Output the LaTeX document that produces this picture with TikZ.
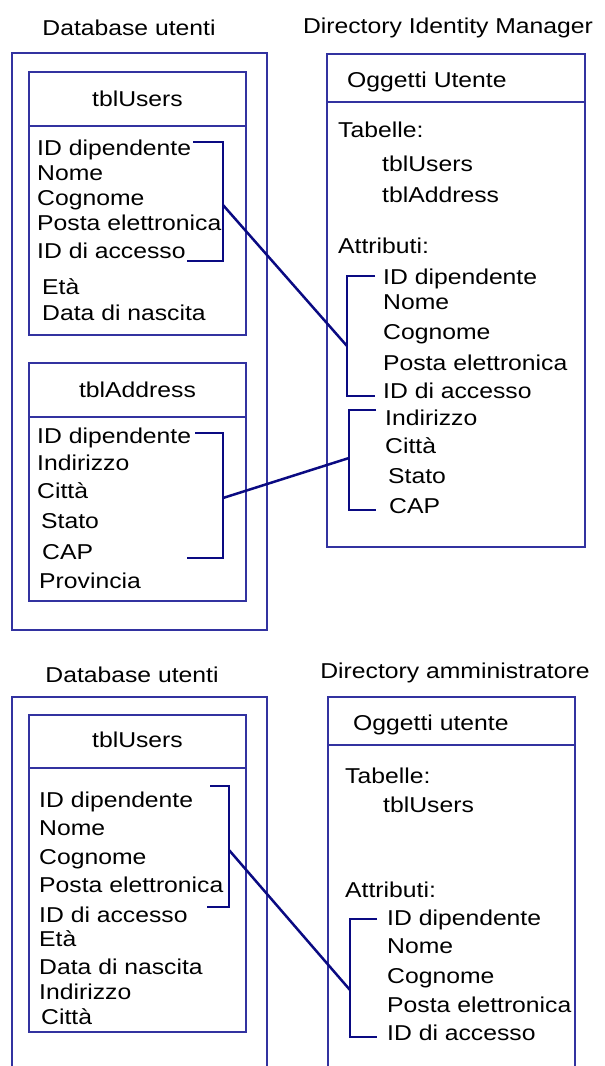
\documentclass[tikz,border=0pt]{standalone}
\usepackage{fontspec}
\setmainfont[FakeStretch=1.15]{Liberation Sans}
\begin{document}
\begin{tikzpicture}[x=1pt,y=-1pt,
  box/.style={draw=boxblue,line width=1.9pt},
  brk/.style={draw=navyline,line width=2.8pt},
  lnk/.style={draw=navyline,line width=2.5pt},
  fld/.style={anchor=base west,inner sep=0pt,font=\fontsize{21.5}{23}\selectfont},
  ttl/.style={anchor=base,inner sep=0pt,font=\fontsize{21.5}{23}\selectfont}]
\definecolor{boxblue}{RGB}{50,50,160}
\definecolor{navyline}{RGB}{10,10,130}
\useasboundingbox (0,0) rectangle (605,1066);
% ---------------- top panel ----------------
\node[ttl] (t1) at (129,35) {Database utenti};
\node[ttl] (t2) at (448,33) {Directory Identity Manager};
\draw[box] (12,53) rectangle (267,630);
% tblUsers
\draw[box] (29,72) rectangle (246,335);
\draw[box] (29,126) -- (246,126);
\node[ttl] (h1) at (137.5,106) {tblUsers};
\node[fld] (a1) at (37,155) {ID dipendente};
\node[fld] (a2) at (37,180) {Nome};
\node[fld] (a3) at (37,205) {Cognome};
\node[fld] (a4) at (37,230) {Posta elettronica};
\node[fld] (a5) at (37,258) {ID di accesso};
\node[fld] (a6) at (42,294) {Età};
\node[fld] (a7) at (42,320) {Data di nascita};
% tblAddress
\draw[box] (29,363) rectangle (246,601);
\draw[box] (29,417) -- (246,417);
\node[ttl] (h2) at (137.5,397) {tblAddress};
\node[fld] (b1) at (37,443) {ID dipendente};
\node[fld] (b2) at (37,470) {Indirizzo};
\node[fld] (b3) at (37,498) {Città};
\node[fld] (b4) at (41,528) {Stato};
\node[fld] (b5) at (42,559) {CAP};
\node[fld] (b6) at (39,588) {Provincia};
% right box
\draw[box] (327,54) rectangle (585,547);
\draw[box] (327,102) -- (585,102);
\node[fld] (o1) at (347,87) {Oggetti Utente};
\node[fld] (c1) at (338,137) {Tabelle:};
\node[fld] (c2) at (382,171) {tblUsers};
\node[fld] (c3) at (382,202) {tblAddress};
\node[fld] (c4) at (338,253) {Attributi:};
\node[fld] (d1) at (383,284) {ID dipendente};
\node[fld] (d2) at (383,309) {Nome};
\node[fld] (d3) at (383,339) {Cognome};
\node[fld] (d4) at (383,370) {Posta elettronica};
\node[fld] (d5) at (383,398) {ID di accesso};
\node[fld] (d6) at (385,425) {Indirizzo};
\node[fld] (d7) at (385,453) {Città};
\node[fld] (d8) at (388,483) {Stato};
\node[fld] (d9) at (389,513) {CAP};
% brackets top
\draw[brk] (193,142) -- (223,142) -- (223,261) -- (187,261);
\coordinate (l1) at (223,205);
\draw[brk] (375,276) -- (347,276) -- (347,396) -- (375,396);
\coordinate (r1) at (347,346);
\draw[lnk] (l1) -- (r1);
\draw[brk] (195,433) -- (223,433) -- (223,558) -- (187,558);
\coordinate (l2) at (223,498);
\draw[brk] (376,410) -- (349,410) -- (349,510) -- (376,510);
\coordinate (r2) at (349,458);
\draw[lnk] (l2) -- (r2);
% ---------------- bottom panel ----------------
\node[ttl] (t3) at (132,682) {Database utenti};
\node[ttl] (t4) at (455,678) {Directory amministratore};
\draw[box] (12,1066) -- (12,697) -- (267,697) -- (267,1066);
\draw[box] (29,715) rectangle (246,1032);
\draw[box] (29,768) -- (246,768);
\node[ttl] (h3) at (137.5,747) {tblUsers};
\node[fld] (e1) at (39,807) {ID dipendente};
\node[fld] (e2) at (39,835) {Nome};
\node[fld] (e3) at (39,864) {Cognome};
\node[fld] (e4) at (39,892) {Posta elettronica};
\node[fld] (e5) at (39,922) {ID di accesso};
\node[fld] (e6) at (39,946) {Età};
\node[fld] (e7) at (39,974) {Data di nascita};
\node[fld] (e8) at (39,999) {Indirizzo};
\node[fld] (e9) at (41,1024) {Città};
\draw[box] (328,1066) -- (328,697) -- (575,697) -- (575,1066);
\draw[box] (328,745) -- (575,745);
\node[fld] (o2) at (353,730) {Oggetti utente};
\node[fld] (f1) at (345,783) {Tabelle:};
\node[fld] (f2) at (383,812) {tblUsers};
\node[fld] (f3) at (345,897) {Attributi:};
\node[fld] (g1) at (387,925) {ID dipendente};
\node[fld] (g2) at (387,953) {Nome};
\node[fld] (g3) at (387,983) {Cognome};
\node[fld] (g4) at (387,1012) {Posta elettronica};
\node[fld] (g5) at (387,1040) {ID di accesso};
\draw[brk] (210,786) -- (229,786) -- (229,907) -- (207,907);
\coordinate (l3) at (229,850);
\draw[brk] (377,919) -- (350,919) -- (350,1037) -- (377,1037);
\coordinate (r3) at (350,990);
\draw[lnk] (l3) -- (r3);
\end{tikzpicture}
\end{document}
